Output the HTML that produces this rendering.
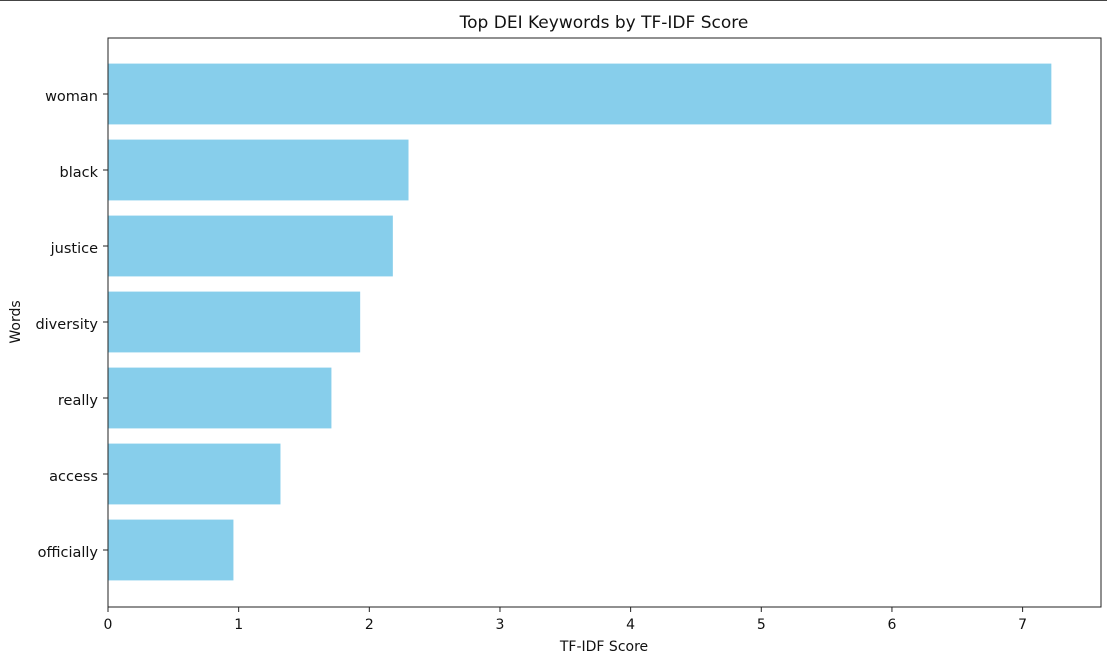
<!DOCTYPE html>
<html><head><meta charset="utf-8"><style>
body{margin:0;background:#fff;font-family:"Liberation Sans","DejaVu Sans",sans-serif;}
svg text{font-family:"DejaVu Sans","Liberation Sans",sans-serif;}
</style></head><body>
<svg id="chart" width="1107" height="661" xmlns="http://www.w3.org/2000/svg">
<line x1="0" y1="0.5" x2="1107" y2="0.5" stroke="#444" stroke-width="1"/>
<text x="604" y="28" font-size="17" text-anchor="middle" fill="#111">Top DEI Keywords by TF-IDF Score</text>
<g id="plot"></g>
<text x="604" y="651" font-size="14" text-anchor="middle" fill="#111">TF-IDF Score</text>
<text x="20" y="322" font-size="14" text-anchor="middle" fill="#111" transform="rotate(-90 20 322)">Words</text>
</svg>
<script>
const categories = ["officially","access","really","diversity","justice","black","woman"];
const values = [0.96,1.32,1.71,1.93,2.18,2.30,7.22];
const xTicks = [0,1,2,3,4,5,6,7];
const L=108,R=1101,T=38,B=607,xMax=7.6;
const x=v=>L+(v/xMax)*(R-L);
const y=i=>550-76*i;
const ns="http://www.w3.org/2000/svg";
const g=document.getElementById('plot');
function mk(t,a){const e=document.createElementNS(ns,t);for(const k in a)e.setAttribute(k,a[k]);g.appendChild(e);return e;}
categories.forEach((c,i)=>{
  const r=mk('rect',{x:L,y:y(i)-30.4,width:x(values[i])-L,height:60.8,fill:'#87ceeb'});
  
  
  const tk=mk('line',{x1:L-5,x2:L,y1:y(i),y2:y(i),stroke:'#222'});
  
  
  const t=mk('text',{x:L-10,y:y(i)+7,'font-size':14.5,'text-anchor':'end',fill:'#111','font-family':'Liberation Sans, sans-serif'});
  t.textContent=c;
  
  
});
xTicks.forEach(v=>{
  const tk=mk('line',{x1:x(v),x2:x(v),y1:B,y2:B+5,stroke:'#222'});
  
  
  const t=mk('text',{x:x(v),y:B+22,'font-size':14,'text-anchor':'middle',fill:'#111'});
  t.textContent=v;
  
  
});
const f=mk('rect',{x:L,y:T,width:R-L,height:B-T,fill:'none',stroke:'#222','stroke-width':1});


</script>
</body></html>
